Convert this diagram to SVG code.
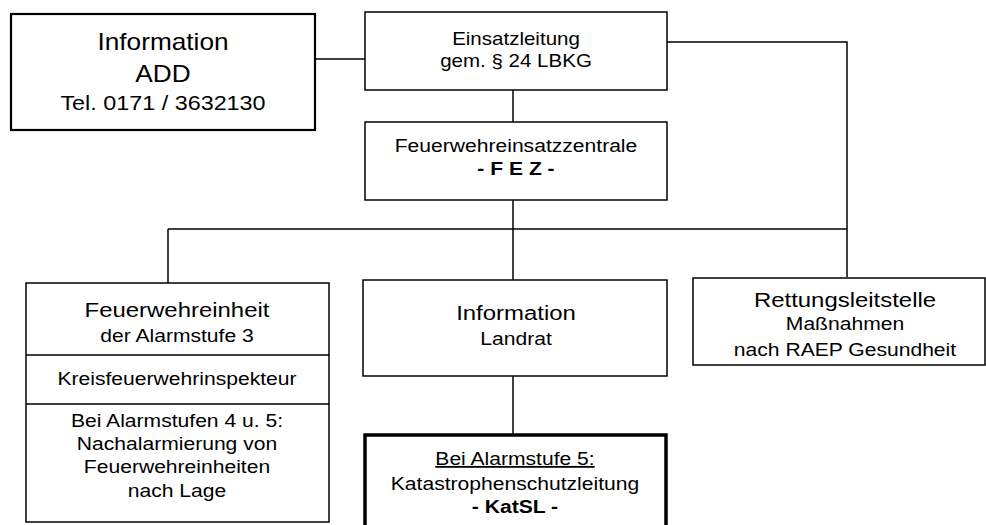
<svg xmlns="http://www.w3.org/2000/svg" width="986" height="525" viewBox="0 0 986 525">
<style>
.box{fill:#fff;stroke:#000;stroke-width:1.5}
.thick{fill:#fff;stroke:#000;stroke-width:3.5}
.line{stroke:#000;stroke-width:1.5;fill:none}
text{font-family:"Liberation Sans",Arial,sans-serif;fill:#000;text-anchor:middle}
.t{font-size:21px}
.m{font-size:18.5px}
.b{font-weight:bold}
</style>
<rect width="986" height="525" fill="#fff"/>
<g id="connectors">
<path class="line" d="M315 59H365"/>
<path class="line" d="M513 90V122"/>
<path class="line" d="M513 200V280"/>
<path class="line" d="M168 229H847"/>
<path class="line" d="M168 229V283"/>
<path class="line" d="M667 42H847V277"/>
<path class="line" d="M513 376V434"/>
</g>
<g id="add">
<rect x="11" y="14" width="304" height="116" style="fill:#fff;stroke:#000;stroke-width:2.2"/>
<g transform="translate(163 0) scale(1.14 1)">
<text x="0" y="50" style="font-size:23px">Information</text>
<text x="0" y="82" style="font-size:23px">ADD</text>
<text x="0" y="110" style="font-size:20.5px">Tel. 0171 / 3632130</text>
</g>
</g>
<g id="einsatzleitung">
<rect class="box" x="365" y="12" width="302" height="78"/>
<g transform="translate(516 0) scale(1.14 1)">
<text class="m" x="0" y="45" style="font-size:18px">Einsatzleitung</text>
<text class="m" x="0" y="67" style="font-size:18px">gem. § 24 LBKG</text>
</g>
</g>
<g id="fez">
<rect class="box" x="365" y="122" width="302" height="78"/>
<g transform="translate(516 0) scale(1.14 1)">
<text class="m" x="0" y="152">Feuerwehreinsatzzentrale</text>
<text class="m b" x="0" y="175">- F E Z -</text>
</g>
</g>
<g id="feuerwehreinheit">
<rect class="box" x="26" y="283" width="303" height="239"/>
<path class="line" d="M26 355H329M26 404H329"/>
<g transform="translate(177 0) scale(1.14 1)">
<text class="t" x="0" y="317">Feuerwehreinheit</text>
<text class="m" x="0" y="342">der Alarmstufe 3</text>
<text class="m" x="0" y="385">Kreisfeuerwehrinspekteur</text>
<text class="m" x="0" y="427">Bei Alarmstufen 4 u. 5:</text>
<text class="m" x="0" y="450">Nachalarmierung von</text>
<text class="m" x="0" y="473">Feuerwehreinheiten</text>
<text class="m" x="0" y="497">nach Lage</text>
</g>
</g>
<g id="landrat">
<rect class="box" x="363" y="280" width="304" height="96"/>
<g transform="translate(516 0) scale(1.14 1)">
<text class="t" x="0" y="320">Information</text>
<text class="m" x="0" y="345">Landrat</text>
</g>
</g>
<g id="katsl">
<rect class="thick" x="365" y="435" width="301" height="100"/>
<g transform="translate(515 0) scale(1.14 1)">
<text class="m" x="0" y="465" text-decoration="underline">Bei Alarmstufe 5:</text>
<text class="m" x="0" y="490">Katastrophenschutzleitung</text>
<text class="m b" x="0" y="513">- KatSL -</text>
</g>
</g>
<g id="rettungsleitstelle">
<rect class="box" x="693" y="278" width="292" height="87"/>
<g transform="translate(845 0) scale(1.14 1)">
<text class="t" x="0" y="307">Rettungsleitstelle</text>
<text class="m" x="0" y="330">Maßnahmen</text>
<text class="m" x="0" y="356">nach RAEP Gesundheit</text>
</g>
</g>
</svg>
